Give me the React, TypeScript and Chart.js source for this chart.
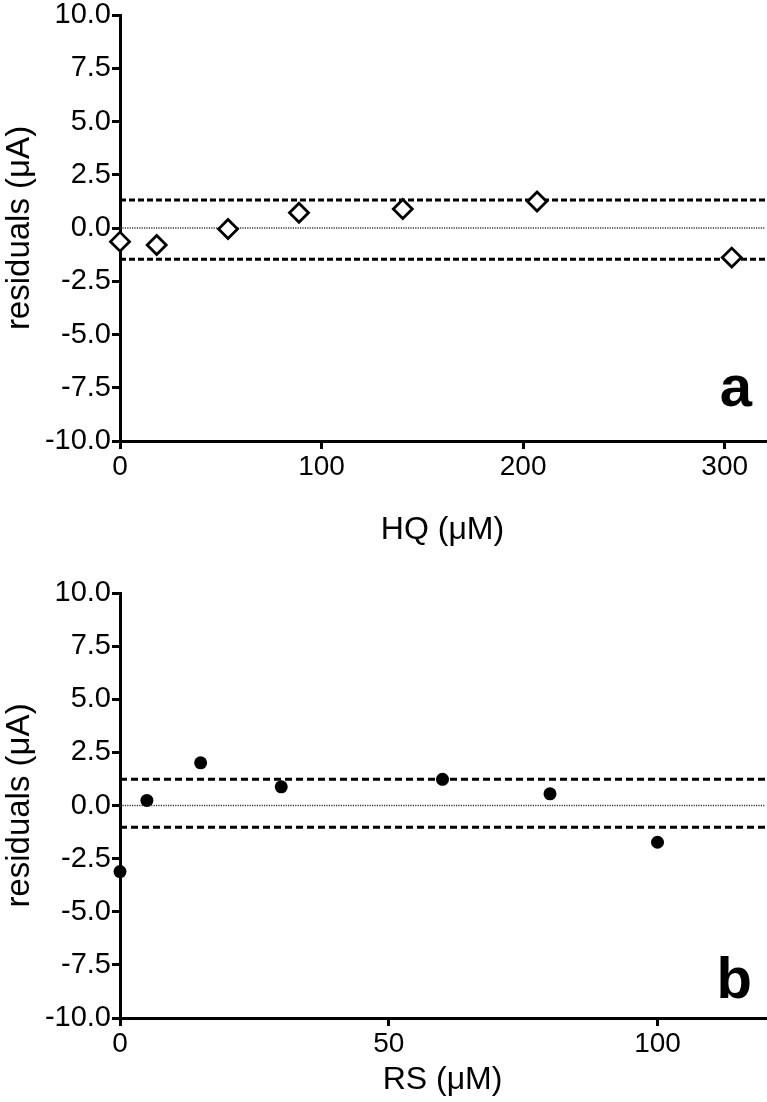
import React, { useEffect, useRef } from 'react';
import { Chart, registerables } from 'chart.js';

Chart.register(...registerables);

// ---- data ----
const hqConcentrations = [0, 18.2, 53.6, 88.8, 140.3, 206.9, 303.5];
const hqResiduals = [-0.64, -0.8, -0.05, 0.72, 0.89, 1.24, -1.39];
const hqUpperLimit = 1.31;
const hqLowerLimit = -1.47;

const rsConcentrations = [0, 5, 15, 30, 60, 80, 100];
const rsResiduals = [-3.11, 0.24, 2.01, 0.88, 1.23, 0.55, -1.73];
const rsUpperLimit = 1.23;
const rsLowerLimit = -1.02;

const zeroLine = 0;
const residualTicks = [-10, -7.5, -5, -2.5, 0, 2.5, 5, 7.5, 10];
const residualMin = -10;
const residualMax = 10;
const hqAxisMax = 320;
const hqTickStep = 100;
const rsAxisMax = 120;
const rsTickStep = 50;

const FONT = '"Liberation Sans", Arial, Helvetica, sans-serif';

const letterPlugin = {
  id: 'panelLetter',
  afterDraw(chart: any, _args: any, opts: any) {
    const { ctx, chartArea } = chart;
    ctx.save();
    ctx.font = `bold ${opts.size}px ${FONT}`;
    ctx.fillStyle = '#000';
    ctx.textAlign = 'right';
    ctx.textBaseline = 'alphabetic';
    ctx.fillText(opts.text, chartArea.right - opts.dx, chartArea.bottom - opts.dy);
    ctx.restore();
  },
};

function makeConfig(p: any): any {
  const axisGrid = {
    drawOnChartArea: false,
    drawTicks: true,
    tickLength: 8,
    color: '#000',
    lineWidth: 3,
  };
  const axisBorder = { display: true, color: '#000', width: 3 };
  return {
    type: 'scatter',
    data: {
      datasets: [
        {
          type: 'scatter',
          data: p.xs.map((x: number, i: number) => ({ x, y: p.ys[i] })),
          pointStyle: p.pointStyle,
          pointRadius: p.pointRadius,
          pointBackgroundColor: p.pointBg,
          pointBorderColor: '#000',
          pointBorderWidth: p.pointBorderWidth,
          showLine: false,
          clip: false,
        },
        {
          type: 'line',
          data: [{ x: 0, y: p.upper }, { x: p.xMax, y: p.upper }],
          borderColor: '#000',
          borderWidth: 3,
          borderDash: p.dash,
          pointRadius: 0,
          showLine: true,
          fill: false,
        },
        {
          type: 'line',
          data: [{ x: 0, y: p.lower }, { x: p.xMax, y: p.lower }],
          borderColor: '#000',
          borderWidth: 3,
          borderDash: p.dash,
          pointRadius: 0,
          showLine: true,
          fill: false,
        },
        {
          type: 'line',
          data: [{ x: 0, y: zeroLine }, { x: p.xMax, y: zeroLine }],
          borderColor: '#333',
          borderWidth: 1.3,
          borderDash: [1.2, 1.2],
          pointRadius: 0,
          showLine: true,
          fill: false,
        },
      ],
    },
    options: {
      animation: false,
      responsive: false,
      maintainAspectRatio: false,
      layout: { autoPadding: false, padding: { top: p.padTop, right: 2, left: 0, bottom: 0 } },
      plugins: {
        legend: { display: false },
        tooltip: { enabled: false },
        panelLetter: { text: p.letter, size: 58, dx: p.letterDx, dy: p.letterDy },
      },
      scales: {
        x: {
          type: 'linear',
          min: 0,
          max: p.xMax,
          ticks: {
            stepSize: p.xStep,
            includeBounds: false,
            font: { family: FONT, size: 28, lineHeight: 1.2 },
            color: '#000',
            padding: 1,
            maxRotation: 0,
          },
          grid: axisGrid,
          border: axisBorder,
          title: {
            display: true,
            text: p.xTitle,
            font: { family: FONT, size: 32 },
            color: '#000',
            padding: { top: 0, bottom: p.xTitlePad },
          },
          afterFit: (s: any) => {
            s.height = p.xAxisHeight;
            s.paddingLeft = 0;
            s.paddingRight = 0;
          },
        },
        y: {
          type: 'linear',
          min: residualMin,
          max: residualMax,
          afterBuildTicks: (s: any) => {
            s.ticks = residualTicks.map((v) => ({ value: v }));
          },
          ticks: {
            font: { family: FONT, size: 29, lineHeight: 1 },
            color: '#000',
            padding: 1,
            callback: (v: any) => Number(v).toFixed(1),
          },
          grid: axisGrid,
          border: axisBorder,
          title: {
            display: true,
            text: 'residuals (\u03bcA)',
            font: { family: FONT, size: 33 },
            color: '#000',
            padding: { top: 0, bottom: 0 },
          },
          afterFit: (s: any) => {
            s.width = 120;
            s.paddingTop = 0;
            s.paddingBottom = 0;
          },
        },
      },
    },
    plugins: [letterPlugin],
  };
}

function ResidualPlot(props: { config: any; width: number; height: number; top: number }) {
  const ref = useRef<HTMLCanvasElement | null>(null);
  useEffect(() => {
    if (!ref.current) return;
    const chart = new Chart(ref.current, props.config);
    return () => chart.destroy();
  }, []);
  return (
    <canvas
      ref={ref}
      width={props.width}
      height={props.height}
      style={{ position: 'absolute', left: 0, top: props.top, width: props.width, height: props.height, display: 'block' }}
    />
  );
}

export default function App() {
  const topConfig = makeConfig({
    xs: hqConcentrations,
    ys: hqResiduals,
    upper: hqUpperLimit,
    lower: hqLowerLimit,
    xMax: hqAxisMax,
    xStep: hqTickStep,
    xTitle: 'HQ (\u03bcM)',
    letter: 'a',
    letterDx: 13,
    letterDy: 35,
    pointStyle: 'rectRot',
    pointRadius: 9.5,
    pointBg: '#fff',
    pointBorderWidth: 2.8,
    dash: [6, 3],
    padTop: 15,
    xAxisHeight: 119,
    xTitlePad: 11,
  });
  const bottomConfig = makeConfig({
    xs: rsConcentrations,
    ys: rsResiduals,
    upper: rsUpperLimit,
    lower: rsLowerLimit,
    xMax: rsAxisMax,
    xStep: rsTickStep,
    xTitle: 'RS (\u03bcM)',
    letter: 'b',
    letterDx: 13,
    letterDy: 20,
    pointStyle: 'circle',
    pointRadius: 6.5,
    pointBg: '#000',
    pointBorderWidth: 0,
    dash: [7, 4],
    padTop: 33,
    xAxisHeight: 84,
    xTitlePad: 3,
  });
  return (
    <div style={{ position: 'absolute', left: 0, top: 0, width: 767, height: 1102, background: '#fff' }}>
      <ResidualPlot config={topConfig} width={767} height={560} top={0} />
      <ResidualPlot config={bottomConfig} width={767} height={542} top={560} />
    </div>
  );
}
